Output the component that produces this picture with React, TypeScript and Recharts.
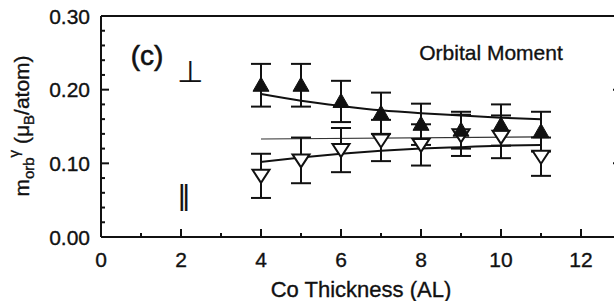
import React from 'react';
import { ComposedChart, Scatter, Line, XAxis, YAxis, ErrorBar, ReferenceDot } from 'recharts';

// ---- data ----
const thickness = [4, 5, 6, 7, 8, 9, 10, 11];
const perpMoment = [0.206, 0.206, 0.184, 0.168, 0.153, 0.145, 0.152, 0.143];
const perpError = [0.029, 0.029, 0.028, 0.028, 0.028, 0.025, 0.028, 0.027];
const parMoment = [0.083, 0.104, 0.118, 0.131, 0.125, 0.138, 0.136, 0.109];
const parError = [0.030, 0.031, 0.030, 0.028, 0.028, 0.028, 0.029, 0.026];

const fitThickness = [4, 5, 6, 7, 8, 9, 10, 11];
const perpFit = [0.194, 0.185, 0.178, 0.172, 0.168, 0.165, 0.162, 0.160];
const parFit = [0.102, 0.108, 0.113, 0.117, 0.120, 0.122, 0.124, 0.125];
const avgThickness = [4, 11];
const avgFit = [0.133, 0.136];

const xMajorTicks = [0, 2, 4, 6, 8, 10, 12];
const xMinorTicks = [1, 3, 5, 7, 9, 11];
const yMajorTicks = [0, 0.1, 0.2, 0.3];
const yMinorTicks = [0.02, 0.04, 0.06, 0.08, 0.12, 0.14, 0.16, 0.18, 0.22, 0.24, 0.26, 0.28];
const yTickLabels = ['0.00', '0.10', '0.20', '0.30'];

// ---- derived tables ----
const perpData = thickness.map((x, i) => ({ x, y: perpMoment[i], err: perpError[i] }));
const parData = thickness.map((x, i) => ({ x, y: parMoment[i], err: parError[i] }));
const perpFitData = fitThickness.map((x, i) => ({ x, y: perpFit[i] }));
const parFitData = fitThickness.map((x, i) => ({ x, y: parFit[i] }));
const avgData = avgThickness.map((x, i) => ({ x, y: avgFit[i] }));
const xTicks = [...xMajorTicks, ...xMinorTicks].sort((a, b) => a - b);
const yTicks = [...yMajorTicks, ...yMinorTicks].sort((a, b) => a - b);

const FONT = '"Liberation Sans", Arial, Helvetica, sans-serif';
const INK = '#111';
const TXT = { fill: INK, stroke: INK, strokeWidth: 0.35, fontFamily: FONT };

const isMajorX = (v: number) => xMajorTicks.some((t) => Math.abs(t - v) < 1e-6);
const isMajorY = (v: number) => yMajorTicks.some((t) => Math.abs(t - v) < 1e-6);
const yLabelOf = (v: number) => {
  const i = yMajorTicks.findIndex((t) => Math.abs(t - v) < 1e-6);
  return i >= 0 ? yTickLabels[i] : '';
};

const BottomTick = (p: any) => {
  const v = p.payload.value;
  const major = isMajorX(v);
  return (
    <g>
      <line x1={p.x} x2={p.x} y1={p.y} y2={p.y - (major ? 8 : 4)} stroke={INK} strokeWidth={2} />
      {major && (
        <text x={p.x} y={p.y + 30} textAnchor="middle" fontSize={21} {...TXT}>
          {v}
        </text>
      )}
    </g>
  );
};

const TopTick = (p: any) => {
  const v = p.payload.value;
  const major = isMajorX(v);
  return <line x1={p.x} x2={p.x} y1={p.y} y2={p.y + (major ? 8 : 4)} stroke={INK} strokeWidth={2} />;
};

const LeftTick = (p: any) => {
  const v = p.payload.value;
  const major = isMajorY(v);
  return (
    <g>
      <line x1={p.x} x2={p.x + (major ? 8 : 4)} y1={p.y} y2={p.y} stroke={INK} strokeWidth={2} />
      {major && (
        <text x={p.x - 11} y={p.y} dy="0.36em" textAnchor="end" fontSize={21} {...TXT}>
          {yLabelOf(v)}
        </text>
      )}
    </g>
  );
};

const RightTick = (p: any) => {
  const v = p.payload.value;
  const major = isMajorY(v);
  return <line x1={p.x} x2={p.x - (major ? 8 : 4)} y1={p.y} y2={p.y} stroke={INK} strokeWidth={2} />;
};

const YTitle = (props: any) => {
  const cx = 29;
  const cy = 126;
  return (
    <text x={cx} y={cy} transform={`rotate(-90 ${cx} ${cy})`} textAnchor="middle" fontSize={21} {...TXT}>
      <tspan>m</tspan>
      <tspan fontSize={15} dy={5}>orb</tspan>
      <tspan fontSize={15} dy={-15}>γ</tspan>
      <tspan dy={10}> (μ</tspan>
      <tspan fontSize={15} dy={5}>B</tspan>
      <tspan dy={-5}>/atom)</tspan>
    </text>
  );
};

const XTitle = (props: any) => (
  <text x={361} y={297} textAnchor="middle" fontSize={22} {...TXT}>
    Co Thickness (AL)
  </text>
);

const UpTriangle = (p: any) => {
  const { cx, cy } = p;
  if (cx == null || cy == null) return null;
  return <path d={`M${cx - 8},${cy + 6} L${cx + 8},${cy + 6} L${cx},${cy - 8} Z`} fill={INK} stroke={INK} strokeWidth={1} />;
};

const DownTriangle = (p: any) => {
  const { cx, cy } = p;
  if (cx == null || cy == null) return null;
  return (
    <path
      d={`M${cx - 8.5},${cy - 6} L${cx + 8.5},${cy - 6} L${cx},${cy + 7} Z`}
      fill="#fff"
      stroke={INK}
      strokeWidth={2}
      strokeLinejoin="miter"
    />
  );
};

const textShape = (content: string, size: number, family: string = FONT, sw: number = 0.35) => (p: any) => (
  <text
    x={p.cx}
    y={p.cy}
    textAnchor="middle"
    dominantBaseline="central"
    fontSize={size}
    fontFamily={family}
    fill={INK}
    stroke={INK}
    strokeWidth={sw}
  >
    {content}
  </text>
);

export default function App() {
  return (
    <div style={{ position: 'absolute', left: 0, top: 0, width: 614, height: 301, overflow: 'hidden', background: '#fff' }}>
      <ComposedChart width={640} height={301} margin={{ top: 15, right: 18, bottom: 63, left: 100 }}>
        <XAxis
          xAxisId={0}
          dataKey="x"
          type="number"
          domain={[0, 13]}
          allowDataOverflow
          ticks={xTicks}
          interval={0}
          height={1}
          tickSize={0}
          tickMargin={0}
          tickLine={false}
          axisLine={{ stroke: INK, strokeWidth: 2 }}
          tick={<BottomTick />}
          label={<XTitle />}
        />
        <XAxis
          xAxisId="top"
          orientation="top"
          type="number"
          domain={[0, 13]}
          allowDataOverflow
          ticks={xTicks}
          interval={0}
          height={1}
          tickSize={0}
          tickMargin={0}
          tickLine={false}
          axisLine={{ stroke: INK, strokeWidth: 2 }}
          tick={<TopTick />}
        />
        <YAxis
          yAxisId={0}
          dataKey="y"
          type="number"
          domain={[0, 0.3]}
          allowDataOverflow
          ticks={yTicks}
          interval={0}
          width={1}
          tickSize={0}
          tickMargin={0}
          tickLine={false}
          axisLine={{ stroke: INK, strokeWidth: 2 }}
          tick={<LeftTick />}
          label={<YTitle />}
        />
        <YAxis
          yAxisId="right"
          orientation="right"
          type="number"
          domain={[0, 0.3]}
          allowDataOverflow
          ticks={yTicks}
          interval={0}
          width={1}
          tickSize={0}
          tickMargin={0}
          tickLine={false}
          axisLine={{ stroke: INK, strokeWidth: 2 }}
          tick={<RightTick />}
        />

        <Line data={avgData} dataKey="y" type="linear" stroke="#333" strokeWidth={1.2} dot={false} activeDot={false} isAnimationActive={false} />
        <Line data={perpFitData} dataKey="y" type="monotone" stroke={INK} strokeWidth={2} dot={false} activeDot={false} isAnimationActive={false} />
        <Line data={parFitData} dataKey="y" type="monotone" stroke={INK} strokeWidth={2} dot={false} activeDot={false} isAnimationActive={false} />

        <Scatter data={parData} dataKey="y" shape={<DownTriangle />} isAnimationActive={false}>
          <ErrorBar dataKey="err" direction="y" width={10} stroke={INK} strokeWidth={2} isAnimationActive={false} />
        </Scatter>
        <Scatter data={perpData} dataKey="y" shape={<UpTriangle />} isAnimationActive={false}>
          <ErrorBar dataKey="err" direction="y" width={10} stroke={INK} strokeWidth={2} isAnimationActive={false} />
        </Scatter>

        <ReferenceDot x={1.15} y={0.246} r={0} shape={textShape('(c)', 28, FONT, 0.6)} />
        <ReferenceDot x={2.225} y={0.225} r={0} shape={textShape('⊥', 30, '"DejaVu Sans", sans-serif', 0.2)} />
        <ReferenceDot x={2.075} y={0.058} r={0} shape={textShape('‖', 27, '"DejaVu Sans", sans-serif', 0.2)} />
        <ReferenceDot x={9.75} y={0.251} r={0} shape={textShape('Orbital Moment', 21)} />
      </ComposedChart>
    </div>
  );
}
